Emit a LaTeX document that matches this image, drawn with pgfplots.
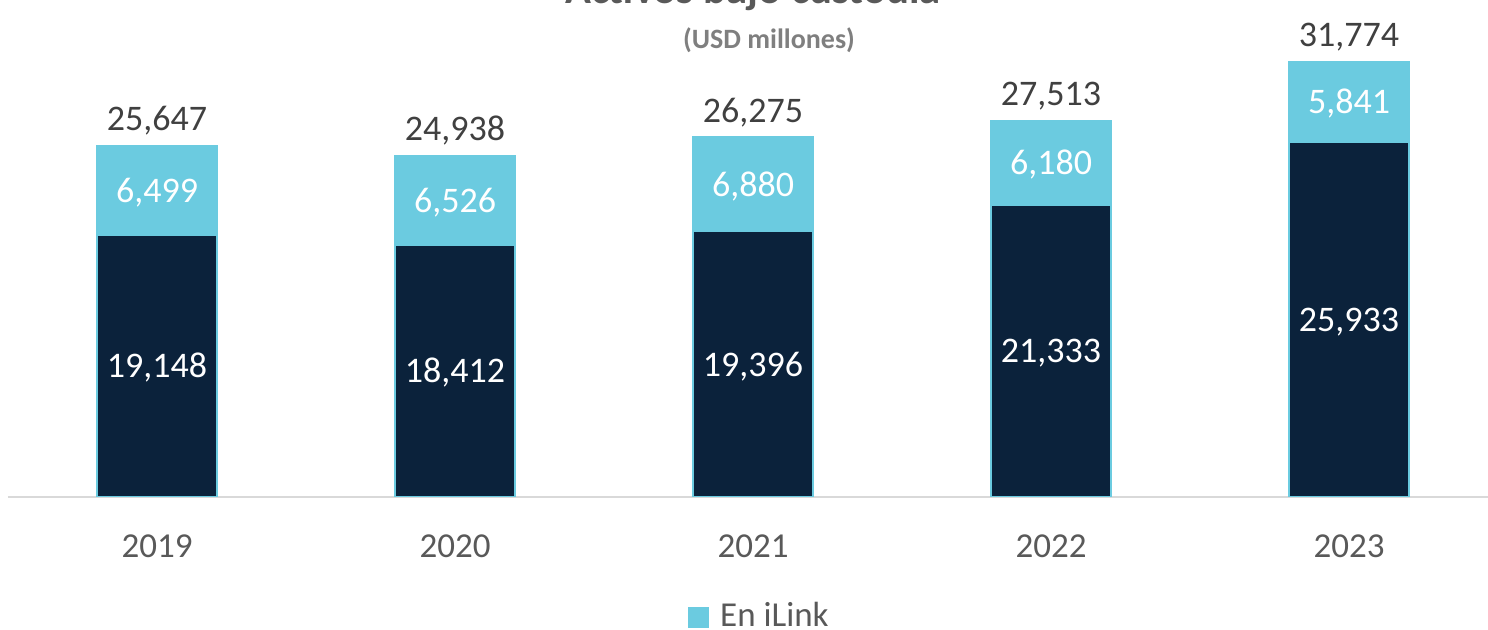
\documentclass[border=0pt]{standalone}
\usepackage{fontspec}
\setmainfont{Carlito}
\usepackage{pgfplots}
\usepackage{pgfplotstable}
\pgfplotsset{compat=1.18}
\definecolor{navy}{RGB}{11,34,59}
\definecolor{lblue}{RGB}{107,203,224}
\definecolor{txtgray}{RGB}{89,89,89}
\definecolor{totgray}{RGB}{64,64,64}
\definecolor{subgray}{RGB}{127,127,127}
\definecolor{axgray}{RGB}{217,217,217}
\pgfplotstableread{
x dark light total
0 19148 6499 25647
1 18412 6526 24938
2 19396 6880 26275
3 21333 6180 27513
4 25933 5841 31774
}\datatable
\begin{document}
\begin{tikzpicture}
\pgfplotsset{common/.style={
  at={(4pt,66.5pt)}, anchor=south west,
  width=745pt, height=239.6pt, scale only axis,
  xmin=-0.5, xmax=4.5, ymin=0, ymax=35000,
}}
\begin{axis}[common, ybar stacked, bar width=60pt,
  axis y line=none, axis x line=bottom,
  x axis line style={-, draw=axgray, line width=0.75pt},
  xtick={0,...,4}, xticklabels={2019,2020,2021,2022,2023},
  major tick length=0pt,
  xticklabel style={font=\fontsize{17.5}{20}\selectfont, text=txtgray, anchor=base, yshift=-30.5pt},
  ]
\addplot[fill=navy, draw=lblue, line width=0.75pt] table[x=x, y=dark] {\datatable};
\addplot[fill=lblue, draw=lblue, line width=0.75pt] table[x=x, y=light] {\datatable};
\end{axis}
\begin{axis}[common, hide axis, clip=false,
  nodes near coords={\pgfmathprintnumber[fixed,precision=0,1000 sep={,},assume math mode=true]{\pgfplotspointmeta}},
  legend style={at={(0.505,-0.248)}, anchor=center, draw=none, fill=none,
    font=\fontsize{17.5}{20}\selectfont, text=txtgray},
  legend image code/.code={\fill[lblue] (0pt,-6pt) rectangle (10.5pt,4.5pt); \path (14pt,0pt);},
  ]
\addplot[draw=none, mark=none, point meta=\thisrow{dark},
  every node near coord/.append style={anchor=base, yshift=-6pt, text=white, font=\fontsize{18}{20}\selectfont}]
  table[x=x, y expr=\thisrow{dark}/2] {\datatable};
\addplot[draw=none, mark=none, point meta=\thisrow{light},
  every node near coord/.append style={anchor=base, yshift=-6pt, text=white, font=\fontsize{18}{20}\selectfont}]
  table[x=x, y expr=\thisrow{dark}+\thisrow{light}/2] {\datatable};
\addplot[draw=none, mark=none, point meta=\thisrow{total},
  every node near coord/.append style={anchor=base, yshift=7.5pt, text=totgray, font=\fontsize{18}{20}\selectfont}]
  table[x=x, y=total] {\datatable};
\addlegendimage{fill=lblue}
\addlegendentry{En iLink}
\end{axis}
\node[font=\bfseries\fontsize{21.4}{24}\selectfont, text=txtgray, anchor=base] at (376.5pt,313pt) {Activos bajo custodia};
\node[font=\bfseries\fontsize{14}{16}\selectfont, text=subgray, anchor=base] at (384.5pt,290.5pt) {(USD millones)};
\pgfresetboundingbox
\useasboundingbox (0,0) rectangle (744pt,315pt);
\end{tikzpicture}
\end{document}
